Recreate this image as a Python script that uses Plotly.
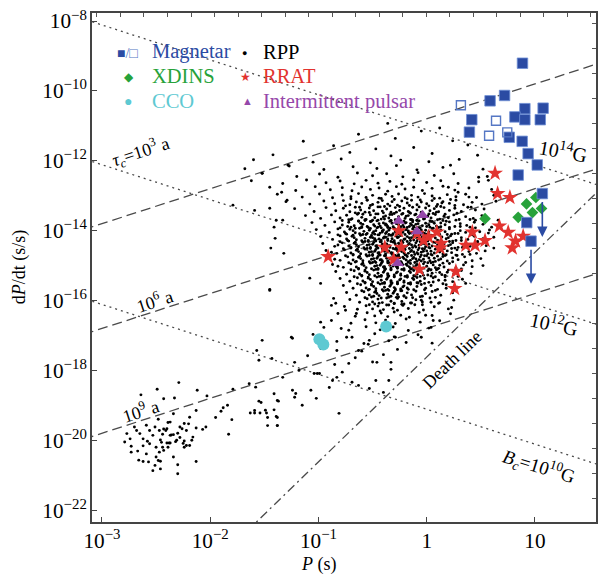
import numpy as np
import plotly.graph_objects as go

# ---------------- data ----------------
# Magnetars, filled squares: period P (s), dP/dt (s/s)
mag_P = [7.67, 5.24, 3.85, 2.61, 2.48, 8.07, 6.53, 8.07, 11.9, 11.2, 5.79, 7.62, 8.65, 10.5, 7.0, 11.7, 8.4, 9.2]
mag_Pdot = [6.2e-10, 7.4e-11, 5.2e-11, 1.5e-11, 6.6e-12, 3.1e-11, 1.8e-11, 1.5e-11, 3.2e-11, 1.5e-11,
            4.7e-12, 3.6e-12, 1.6e-12, 7.6e-13, 3.9e-13, 1.15e-13, 1.7e-14, 5.0e-15]
# Magnetars, open squares
mago_P = [2.07, 4.37, 3.77, 5.55]
mago_Pdot = [3.9e-11, 1.4e-11, 5.2e-12, 6.5e-12]
# Upper limits (arrows): start (P, Pdot) -> end Pdot
lim_P = [11.7, 9.2]
lim_Pdot_from = [1.15e-13, 5.0e-15]
lim_Pdot_to = [6.6e-15, 3.0e-16]
# XDINS
xdins_P = [10.2, 8.36, 11.5, 9.48, 7.0, 3.46]
xdins_Pdot = [8.9e-14, 5.8e-14, 4.3e-14, 3.3e-14, 2.4e-14, 2.2e-14]
# CCO
cco_P = [0.102, 0.111, 0.422]
cco_Pdot = [7.8e-18, 5.5e-18, 1.8e-17]
# RRAT
rrat_P = [0.123, 0.551, 0.410, 0.583, 0.495, 0.855, 0.813, 0.935, 1.04, 1.24, 1.36, 1.33, 1.86,
          1.81, 2.64, 2.30, 2.80, 3.46, 4.28, 4.52, 5.87, 4.69, 5.66, 6.62, 7.78, 6.17]
rrat_Pdot = [1.8e-15, 9.8e-15, 3.3e-15, 3.3e-15, 1.5e-15, 7.8e-16, 8.3e-15, 5.2e-15, 6.6e-15, 9.1e-15,
             4.3e-15, 3.2e-15, 6.8e-16, 2.2e-16, 9.1e-15, 3.8e-15, 3.8e-15, 5.2e-15, 4.4e-13, 1.15e-13,
             8.9e-14, 1.35e-14, 8.9e-15, 5.0e-15, 6.9e-15, 3.2e-15]
# Intermittent pulsars
int_P = [0.551, 0.916, 0.813, 0.540]
int_Pdot = [1.9e-14, 2.75e-14, 9.5e-15, 1.17e-15]

# RPP, millisecond group (log10 P, log10 Pdot)
msp_logP = [-2.49, -2.29, -2.64, -2.43, -2.33, -2.12, -2.03, -1.79, -1.64, -1.58, -1.41, -1.37, -1.55, -1.49,
            -1.59, -1.54, -1.48, -1.39, -1.63, -1.88, -1.90, -1.80, -1.83, -1.95, -2.04, -2.07, -2.13, -2.17,
            -2.22, -2.28, -2.30, -2.28, -2.32, -2.31, -2.37, -2.40, -2.45, -2.44, -2.39, -2.43, -2.47,
            -2.50, -2.53, -2.56, -2.58, -2.62, -2.65, -2.68, -2.70, -2.74, -2.77, -2.79, -2.73, -2.73,
            -2.67, -2.62, -2.59, -2.66, -2.62, -2.57, -2.50, -2.48, -2.46, -2.51, -2.53, -2.46, -2.34,
            -2.30, -2.30, -2.19, -2.13, -2.22, -2.25, -2.16, -2.24, -2.24, -2.26, -2.24, -2.20, -2.37,
            -2.40, -2.36, -2.34, -2.47, -2.56, -2.51, -2.59, -2.48, -2.37, -2.39, -2.43, -2.41, -2.44,
            -2.46, -2.38, -1.38, -1.41, -2.34, -2.19, -2.13, -1.84]
msp_logPdot = [-18.54, -18.35, -18.70, -18.81, -18.79, -18.57, -18.73, -18.54, -18.38, -18.48, -18.67,
               -18.88, -18.88, -19.14, -19.22, -19.22, -19.22, -19.32, -19.22, -19.07, -19.17, -19.41,
               -19.83, -19.35, -19.62, -19.69, -19.65, -20.00, -19.72, -19.62, -19.80, -19.92, -20.04,
               -20.00, -20.08, -20.08, -20.06, -20.20, -20.20, -20.29, -20.34, -20.20, -19.86, -20.10,
               -20.03, -19.96, -19.81, -19.72, -19.62, -19.96, -19.81, -20.05, -20.17, -20.34, -20.31,
               -20.16, -20.39, -20.57, -20.61, -20.62, -20.48, -20.58, -20.60, -20.72, -20.87, -20.82,
               -20.48, -20.70, -20.96, -20.15, -20.61, -20.15, -20.09, -19.91, -20.02, -20.20, -19.67,
               -19.52, -19.53, -19.86, -19.67, -19.85, -19.84, -19.72, -19.72, -19.62, -19.57, -19.40,
               -19.48, -19.49, -19.68, -19.72, -19.83, -19.99, -20.08, -19.58, -19.13, -19.24, -19.34,
               -19.15, -19.00]

# RPP, normal pulsars (log10 P, log10 Pdot)
rpp_points = [
    (-0.36, -10.93), (0.12, -11.06), (-0.63, -11.24), (-0.05, -11.15), (-1.14, -11.44), (-0.29, -11.36),
    (0.24, -11.43), (-0.86, -11.57), (-0.47, -11.66), (-0.12, -11.62), (0.38, -11.55), (-1.42, -11.83),
    (-0.71, -11.76), (-0.33, -11.86), (0.05, -11.79), (0.47, -11.84), (-1.6, -11.97), (-1.05, -12.04),
    (-0.79, -11.95), (-0.52, -12.06), (-0.24, -11.98), (0.02, -12.03), (0.3, -11.96),
    (-1.68, -12.23), (-1.27, -12.15), (-0.95, -12.25), (-0.68, -12.17), (-0.46, -12.22), (-0.28, -12.14),
    (-0.09, -12.26), (0.15, -12.19), (0.52, -12.24),
    (-1.52, -12.36), (-1.2, -12.45), (-0.99, -12.38), (-0.82, -12.47), (-0.64, -12.35), (-0.5, -12.43),
    (-0.37, -12.37), (-0.22, -12.46), (-0.08, -12.34), (0.07, -12.42), (0.25, -12.37), (0.56, -12.45),
    (-1.62, -12.57), (-1.33, -12.65), (-1.11, -12.55), (-0.93, -12.63), (-0.8, -12.58), (-0.67, -12.66),
    (-0.56, -12.56), (-0.45, -12.64), (-0.34, -12.59), (-0.23, -12.67), (-0.12, -12.55), (0.0, -12.62),
    (0.13, -12.57), (0.29, -12.65), (0.48, -12.6),
    (-1.45, -12.76), (-1.21, -12.85), (-1.03, -12.74), (-0.89, -12.83), (-0.78, -12.77), (-0.69, -12.86),
    (-0.6, -12.75), (-0.52, -12.82), (-0.44, -12.78), (-0.36, -12.87), (-0.28, -12.74), (-0.2, -12.81),
    (-0.12, -12.76), (-0.04, -12.85), (0.05, -12.79), (0.15, -12.73), (0.26, -12.84), (0.39, -12.78),
    (0.6, -12.82),
    (-1.38, -12.96), (-1.15, -13.04), (-0.99, -12.95), (-0.87, -13.06), (-0.78, -12.98), (-0.7, -13.03),
    (-0.63, -12.94), (-0.56, -13.05), (-0.5, -12.99), (-0.44, -13.07), (-0.38, -12.96), (-0.32, -13.02),
    (-0.26, -12.95), (-0.2, -13.06), (-0.14, -12.99), (-0.08, -13.04), (-0.02, -12.94), (0.05, -13.01),
    (0.12, -13.07), (0.19, -12.97), (0.27, -13.03), (0.36, -12.96), (0.46, -13.05), (0.62, -12.99),
    (-1.3, -13.17), (-1.08, -13.24), (-0.95, -13.15), (-0.85, -13.23), (-0.77, -13.14), (-0.71, -13.26),
    (-0.65, -13.18), (-0.6, -13.22), (-0.55, -13.13), (-0.5, -13.25), (-0.45, -13.19), (-0.41, -13.14),
    (-0.36, -13.24), (-0.32, -13.17), (-0.27, -13.27), (-0.23, -13.15), (-0.18, -13.21), (-0.14, -13.13),
    (-0.09, -13.26), (-0.05, -13.18), (0.0, -13.23), (0.05, -13.14), (0.1, -13.25), (0.15, -13.17),
    (0.21, -13.22), (0.27, -13.13), (0.34, -13.26), (0.42, -13.19), (0.51, -13.24), (0.64, -13.16),
    (-1.22, -13.37), (-1.04, -13.45), (-0.93, -13.34), (-0.84, -13.43), (-0.77, -13.36), (-0.71, -13.46),
    (-0.66, -13.33), (-0.61, -13.41), (-0.57, -13.47), (-0.53, -13.35), (-0.49, -13.43), (-0.45, -13.32),
    (-0.41, -13.44), (-0.37, -13.38), (-0.33, -13.47), (-0.29, -13.34), (-0.25, -13.42), (-0.21, -13.36),
    (-0.17, -13.45), (-0.13, -13.33), (-0.09, -13.41), (-0.05, -13.47), (-0.01, -13.35), (0.03, -13.43),
    (0.07, -13.37), (0.11, -13.46), (0.16, -13.34), (0.21, -13.42), (0.26, -13.36), (0.32, -13.45),
    (0.38, -13.33), (0.45, -13.41), (0.53, -13.38), (-0.63, -13.5), (-0.39, -13.31), (-0.15, -13.5),
    (0.09, -13.31),
    (-1.12, -13.57), (-0.98, -13.65), (-0.88, -13.55), (-0.8, -13.64), (-0.74, -13.56), (-0.69, -13.66),
    (-0.64, -13.53), (-0.6, -13.62), (-0.56, -13.68), (-0.52, -13.55), (-0.48, -13.63), (-0.45, -13.52),
    (-0.42, -13.67), (-0.38, -13.58), (-0.35, -13.64), (-0.32, -13.54), (-0.29, -13.69), (-0.26, -13.6),
    (-0.23, -13.53), (-0.2, -13.65), (-0.17, -13.57), (-0.14, -13.68), (-0.11, -13.55), (-0.08, -13.62),
    (-0.05, -13.52), (-0.02, -13.66), (0.01, -13.58), (0.04, -13.64), (0.08, -13.54), (0.12, -13.67),
    (0.16, -13.59), (0.2, -13.63), (0.25, -13.55), (0.3, -13.68), (0.36, -13.6), (0.43, -13.65),
    (0.51, -13.57), (-0.72, -13.69), (-0.5, -13.7), (-0.3, -13.51), (-0.13, -13.7), (0.06, -13.51),
    (-0.4, -13.61), (-0.19, -13.59),
    (-1.06, -13.77), (-0.94, -13.85), (-0.85, -13.75), (-0.78, -13.84), (-0.72, -13.76), (-0.67, -13.86),
    (-0.63, -13.73), (-0.59, -13.82), (-0.55, -13.88), (-0.52, -13.74), (-0.49, -13.83), (-0.46, -13.72),
    (-0.43, -13.87), (-0.4, -13.78), (-0.37, -13.84), (-0.34, -13.73), (-0.31, -13.89), (-0.28, -13.8),
    (-0.25, -13.74), (-0.22, -13.85), (-0.19, -13.77), (-0.16, -13.88), (-0.13, -13.75), (-0.1, -13.82),
    (-0.07, -13.72), (-0.04, -13.86), (-0.01, -13.79), (0.02, -13.84), (0.05, -13.74), (0.09, -13.87),
    (0.13, -13.78), (0.17, -13.83), (0.21, -13.75), (0.26, -13.88), (0.31, -13.8), (0.37, -13.85),
    (0.44, -13.76), (0.52, -13.82), (-0.7, -13.9), (-0.57, -13.71), (-0.45, -13.9), (-0.33, -13.71),
    (-0.21, -13.9), (-0.09, -13.7), (0.03, -13.9), (0.15, -13.71), (-0.61, -13.79), (-0.38, -13.81),
    (-0.15, -13.8), (0.07, -13.79),
    (-1.02, -13.97), (-0.9, -14.05), (-0.82, -13.95), (-0.76, -14.04), (-0.71, -13.96), (-0.66, -14.06),
    (-0.62, -13.93), (-0.58, -14.02), (-0.55, -14.08), (-0.52, -13.94), (-0.49, -14.03), (-0.46, -13.92),
    (-0.43, -14.07), (-0.4, -13.98), (-0.37, -14.04), (-0.34, -13.93), (-0.31, -14.09), (-0.28, -14.0),
    (-0.25, -13.94), (-0.22, -14.05), (-0.19, -13.97), (-0.16, -14.08), (-0.13, -13.95), (-0.1, -14.02),
    (-0.07, -13.92), (-0.04, -14.06), (-0.01, -13.99), (0.02, -14.04), (0.05, -13.94), (0.09, -14.07),
    (0.13, -13.98), (0.17, -14.03), (0.21, -13.95), (0.26, -14.08), (0.31, -14.0), (0.36, -14.05),
    (0.42, -13.96), (0.49, -14.03), (0.58, -13.98), (-0.74, -14.1), (-0.6, -13.91), (-0.48, -14.1),
    (-0.36, -13.91), (-0.24, -14.1), (-0.12, -13.9), (0.0, -14.1), (0.11, -13.91), (0.23, -14.1),
    (-0.68, -14.0), (-0.53, -13.99), (-0.41, -14.01), (-0.29, -13.96), (-0.17, -14.01), (-0.05, -13.98),
    (-0.98, -14.17), (-0.87, -14.25), (-0.8, -14.15), (-0.74, -14.24), (-0.69, -14.16), (-0.65, -14.26),
    (-0.61, -14.13), (-0.57, -14.22), (-0.54, -14.28), (-0.51, -14.14), (-0.48, -14.23), (-0.45, -14.12),
    (-0.42, -14.27), (-0.39, -14.18), (-0.36, -14.24), (-0.33, -14.13), (-0.3, -14.29), (-0.27, -14.2),
    (-0.24, -14.14), (-0.21, -14.25), (-0.18, -14.17), (-0.15, -14.28), (-0.12, -14.15), (-0.09, -14.22),
    (-0.06, -14.12), (-0.03, -14.26), (0.0, -14.19), (0.03, -14.24), (0.06, -14.14), (0.1, -14.27),
    (0.14, -14.18), (0.18, -14.23), (0.22, -14.15), (0.27, -14.28), (0.32, -14.2), (0.38, -14.25),
    (0.44, -14.16), (0.52, -14.23), (0.62, -14.19), (-0.72, -14.3), (-0.59, -14.11), (-0.47, -14.3),
    (-0.35, -14.11), (-0.23, -14.3), (-0.11, -14.1), (0.01, -14.3), (0.12, -14.11), (0.24, -14.3),
    (-0.67, -14.2), (-0.52, -14.19), (-0.4, -14.21), (-0.28, -14.16), (-0.16, -14.21), (-0.04, -14.18),
    (0.08, -14.21), (0.2, -14.2),
    (-0.96, -14.37), (-0.85, -14.45), (-0.78, -14.35), (-0.72, -14.44), (-0.67, -14.36), (-0.63, -14.46),
    (-0.59, -14.33), (-0.55, -14.42), (-0.52, -14.48), (-0.49, -14.34), (-0.46, -14.43), (-0.43, -14.32),
    (-0.4, -14.47), (-0.37, -14.38), (-0.34, -14.44), (-0.31, -14.33), (-0.28, -14.49), (-0.25, -14.4),
    (-0.22, -14.34), (-0.19, -14.45), (-0.16, -14.37), (-0.13, -14.48), (-0.1, -14.35), (-0.07, -14.42),
    (-0.04, -14.32), (-0.01, -14.46), (0.02, -14.39), (0.05, -14.44), (0.08, -14.34), (0.12, -14.47),
    (0.16, -14.38), (0.2, -14.43), (0.24, -14.35), (0.29, -14.48), (0.34, -14.4), (0.4, -14.45),
    (0.47, -14.36), (0.55, -14.43), (-0.7, -14.5), (-0.57, -14.31), (-0.45, -14.5), (-0.33, -14.31),
    (-0.21, -14.5), (-0.09, -14.3), (0.03, -14.5), (0.14, -14.31), (0.26, -14.5), (-0.65, -14.4),
    (-0.5, -14.39), (-0.38, -14.41), (-0.26, -14.36), (-0.14, -14.41), (-0.02, -14.38), (0.1, -14.41),
    (0.22, -14.4), (-0.82, -14.41),
    (-0.93, -14.57), (-0.83, -14.65), (-0.76, -14.55), (-0.7, -14.64), (-0.65, -14.56), (-0.61, -14.66),
    (-0.57, -14.53), (-0.53, -14.62), (-0.5, -14.68), (-0.47, -14.54), (-0.44, -14.63), (-0.41, -14.52),
    (-0.38, -14.67), (-0.35, -14.58), (-0.32, -14.64), (-0.29, -14.53), (-0.26, -14.69), (-0.23, -14.6),
    (-0.2, -14.54), (-0.17, -14.65), (-0.14, -14.57), (-0.11, -14.68), (-0.08, -14.55), (-0.05, -14.62),
    (-0.02, -14.52), (0.01, -14.66), (0.04, -14.59), (0.07, -14.64), (0.11, -14.54), (0.15, -14.67),
    (0.19, -14.58), (0.23, -14.63), (0.28, -14.55), (0.33, -14.68), (0.39, -14.6), (0.46, -14.65),
    (-0.68, -14.7), (-0.55, -14.51), (-0.43, -14.7), (-0.31, -14.51), (-0.19, -14.7), (-0.07, -14.5),
    (0.05, -14.7), (0.16, -14.51), (0.27, -14.7), (-0.63, -14.6), (-0.48, -14.59), (-0.36, -14.61),
    (-0.24, -14.56), (-0.12, -14.61), (0.0, -14.58), (0.12, -14.61), (0.54, -14.58), (-0.88, -14.62),
    (-0.9, -14.77), (-0.8, -14.85), (-0.73, -14.75), (-0.68, -14.84), (-0.63, -14.76), (-0.59, -14.86),
    (-0.55, -14.73), (-0.51, -14.82), (-0.48, -14.88), (-0.45, -14.74), (-0.42, -14.83), (-0.39, -14.72),
    (-0.36, -14.87), (-0.33, -14.78), (-0.3, -14.84), (-0.27, -14.73), (-0.24, -14.89), (-0.21, -14.8),
    (-0.18, -14.74), (-0.15, -14.85), (-0.12, -14.77), (-0.09, -14.88), (-0.06, -14.75), (-0.03, -14.82),
    (0.0, -14.72), (0.03, -14.86), (0.07, -14.79), (0.11, -14.84), (0.15, -14.74), (0.19, -14.87),
    (0.24, -14.78), (0.29, -14.83), (0.35, -14.75), (0.42, -14.86), (0.5, -14.8), (-0.66, -14.9),
    (-0.53, -14.71), (-0.41, -14.9), (-0.29, -14.71), (-0.17, -14.9), (-0.05, -14.7), (0.06, -14.9),
    (0.17, -14.71), (-0.61, -14.8), (-0.46, -14.79), (-0.34, -14.81), (-0.22, -14.76), (-0.1, -14.81),
    (0.02, -14.78), (0.13, -14.81), (-0.85, -14.82),
    (-0.87, -14.97), (-0.77, -15.05), (-0.7, -14.95), (-0.65, -15.04), (-0.6, -14.96), (-0.56, -15.06),
    (-0.52, -14.93), (-0.48, -15.02), (-0.45, -15.08), (-0.42, -14.94), (-0.39, -15.03), (-0.36, -14.92),
    (-0.33, -15.07), (-0.3, -14.98), (-0.27, -15.04), (-0.24, -14.93), (-0.21, -15.09), (-0.18, -15.0),
    (-0.15, -14.94), (-0.12, -15.05), (-0.09, -14.97), (-0.06, -15.08), (-0.03, -14.95), (0.0, -15.02),
    (0.04, -14.92), (0.08, -15.06), (0.12, -14.99), (0.16, -15.04), (0.21, -14.94), (0.27, -15.07),
    (0.34, -14.98), (0.42, -15.03), (-0.63, -15.1), (-0.5, -14.91), (-0.38, -15.1), (-0.26, -14.91),
    (-0.14, -15.1), (-0.02, -14.9), (0.1, -15.1), (-0.58, -15.0), (-0.43, -14.99), (-0.31, -15.01),
    (-0.19, -14.96), (-0.07, -15.01), (0.06, -14.98), (0.52, -15.0), (-0.82, -15.02),
    (-0.84, -15.17), (-0.74, -15.25), (-0.67, -15.15), (-0.62, -15.24), (-0.57, -15.16), (-0.53, -15.26),
    (-0.49, -15.13), (-0.45, -15.22), (-0.42, -15.28), (-0.39, -15.14), (-0.36, -15.23), (-0.33, -15.12),
    (-0.3, -15.27), (-0.27, -15.18), (-0.24, -15.24), (-0.21, -15.13), (-0.18, -15.29), (-0.15, -15.2),
    (-0.12, -15.14), (-0.09, -15.25), (-0.06, -15.17), (-0.03, -15.28), (0.01, -15.15), (0.05, -15.22),
    (0.09, -15.12), (0.14, -15.26), (0.19, -15.19), (0.25, -15.24), (0.32, -15.14), (0.41, -15.23),
    (-0.6, -15.3), (-0.47, -15.11), (-0.35, -15.3), (-0.23, -15.11), (-0.11, -15.3), (0.02, -15.1),
    (-0.55, -15.2), (-0.4, -15.19), (-0.28, -15.21), (-0.16, -15.16), (-0.04, -15.21), (0.12, -15.2),
    (-0.8, -15.37), (-0.71, -15.45), (-0.64, -15.35), (-0.59, -15.44), (-0.54, -15.36), (-0.5, -15.46),
    (-0.46, -15.33), (-0.42, -15.42), (-0.39, -15.48), (-0.36, -15.34), (-0.33, -15.43), (-0.3, -15.32),
    (-0.27, -15.47), (-0.24, -15.38), (-0.21, -15.44), (-0.18, -15.33), (-0.15, -15.49), (-0.12, -15.4),
    (-0.09, -15.34), (-0.06, -15.45), (-0.02, -15.37), (0.02, -15.48), (0.06, -15.35), (0.11, -15.42),
    (0.17, -15.32), (0.24, -15.46), (0.33, -15.39), (-0.57, -15.5), (-0.44, -15.31), (-0.32, -15.5),
    (-0.2, -15.31), (-0.08, -15.5), (0.04, -15.3), (-0.52, -15.4), (-0.37, -15.39), (-0.25, -15.41),
    (-0.13, -15.36),
    (-0.77, -15.57), (-0.68, -15.65), (-0.61, -15.55), (-0.56, -15.64), (-0.51, -15.56), (-0.47, -15.66),
    (-0.43, -15.53), (-0.39, -15.62), (-0.36, -15.68), (-0.33, -15.54), (-0.3, -15.63), (-0.27, -15.52),
    (-0.24, -15.67), (-0.21, -15.58), (-0.18, -15.64), (-0.15, -15.53), (-0.12, -15.69), (-0.09, -15.6),
    (-0.05, -15.54), (-0.01, -15.65), (0.04, -15.57), (0.1, -15.68), (0.18, -15.55), (0.28, -15.62),
    (-0.54, -15.7), (-0.41, -15.51), (-0.29, -15.7), (-0.17, -15.51), (-0.49, -15.6), (-0.34, -15.59),
    (-0.22, -15.61),
    (-0.74, -15.77), (-0.65, -15.85), (-0.58, -15.75), (-0.53, -15.84), (-0.48, -15.76), (-0.44, -15.86),
    (-0.4, -15.73), (-0.36, -15.82), (-0.33, -15.88), (-0.3, -15.74), (-0.27, -15.83), (-0.24, -15.72),
    (-0.21, -15.87), (-0.18, -15.78), (-0.14, -15.84), (-0.1, -15.73), (-0.06, -15.89), (-0.01, -15.8),
    (0.05, -15.74), (0.13, -15.85), (0.24, -15.78), (-0.51, -15.9), (-0.38, -15.71), (-0.26, -15.9),
    (-0.46, -15.8), (-0.31, -15.79),
    (-0.71, -15.97), (-0.62, -16.05), (-0.55, -15.95), (-0.5, -16.04), (-0.45, -15.96), (-0.41, -16.06),
    (-0.37, -15.93), (-0.33, -16.02), (-0.3, -16.08), (-0.27, -15.94), (-0.23, -16.03), (-0.19, -15.92),
    (-0.15, -16.07), (-0.1, -15.98), (-0.04, -16.04), (0.03, -15.93), (0.12, -16.06), (0.25, -15.99),
    (-0.48, -16.1), (-0.35, -15.91), (-0.21, -16.1),
    (-0.76, -16.17), (-0.64, -16.25), (-0.56, -16.15), (-0.5, -16.24), (-0.45, -16.16), (-0.4, -16.26),
    (-0.35, -16.13), (-0.31, -16.22), (-0.27, -16.28), (-0.22, -16.14), (-0.17, -16.23), (-0.11, -16.12),
    (-0.03, -16.27), (0.07, -16.18), (0.2, -16.24), (-0.43, -16.3),
    (-0.82, -16.37), (-0.66, -16.45), (-0.55, -16.35), (-0.48, -16.44), (-0.42, -16.36), (-0.36, -16.46),
    (-0.3, -16.33), (-0.24, -16.42), (-0.16, -16.48), (-0.07, -16.34), (0.05, -16.43), (0.22, -16.38),
    (-0.88, -16.57), (-0.7, -16.65), (-0.57, -16.55), (-0.47, -16.64), (-0.38, -16.56), (-0.29, -16.66),
    (-0.19, -16.53), (-0.06, -16.62), (0.12, -16.58),
    (-0.95, -16.77), (-0.72, -16.85), (-0.56, -16.75), (-0.43, -16.84), (-0.31, -16.76), (-0.17, -16.86),
    (0.02, -16.79), (-1.05, -16.97), (-0.69, -17.05), (-0.48, -16.95), (-0.3, -17.04), (-0.08, -16.98),
    (-0.83, -17.17), (-0.54, -17.25), (-0.35, -17.15), (0.05, -17.22), (-0.98, -17.37), (-0.6, -17.45),
    (-0.27, -17.4), (-1.1, -17.58), (-0.66, -17.64), (-0.4, -17.55), (-0.85, -17.83), (-0.5, -17.76),
    (-0.78, -18.05), (-0.33, -17.97),
    # denser interleaved points of the core
    (-0.66, -13.49), (-0.59, -13.53), (-0.53, -13.48), (-0.47, -13.52), (-0.4, -13.49), (-0.34, -13.54),
    (-0.28, -13.47), (-0.22, -13.51), (-0.16, -13.48), (-0.1, -13.53), (-0.04, -13.49), (0.02, -13.52),
    (0.09, -13.47), (0.17, -13.53), (0.28, -13.5),
    (-0.78, -13.71), (-0.7, -13.68), (-0.63, -13.72), (-0.57, -13.69), (-0.51, -13.73), (-0.45, -13.7),
    (-0.39, -13.67), (-0.33, -13.72), (-0.27, -13.69), (-0.21, -13.73), (-0.15, -13.68), (-0.09, -13.71),
    (-0.03, -13.67), (0.03, -13.72), (0.1, -13.69), (0.18, -13.73), (0.27, -13.7), (0.4, -13.68),
    (-0.8, -13.92), (-0.73, -13.88), (-0.66, -13.93), (-0.6, -13.89), (-0.54, -13.91), (-0.48, -13.87),
    (-0.42, -13.92), (-0.36, -13.88), (-0.3, -13.93), (-0.24, -13.89), (-0.18, -13.91), (-0.12, -13.87),
    (-0.06, -13.92), (0.0, -13.88), (0.06, -13.93), (0.13, -13.89), (0.21, -13.91), (0.31, -13.88),
    (0.45, -13.92),
    (-0.82, -14.12), (-0.75, -14.08), (-0.68, -14.13), (-0.62, -14.09), (-0.56, -14.11), (-0.5, -14.07),
    (-0.44, -14.12), (-0.38, -14.08), (-0.32, -14.13), (-0.26, -14.09), (-0.2, -14.11), (-0.14, -14.07),
    (-0.08, -14.12), (-0.02, -14.08), (0.04, -14.13), (0.11, -14.09), (0.19, -14.11), (0.29, -14.08),
    (0.42, -14.12),
    (-0.8, -14.32), (-0.73, -14.28), (-0.66, -14.33), (-0.6, -14.29), (-0.54, -14.31), (-0.48, -14.27),
    (-0.42, -14.32), (-0.36, -14.28), (-0.3, -14.33), (-0.24, -14.29), (-0.18, -14.31), (-0.12, -14.27),
    (-0.06, -14.32), (0.0, -14.28), (0.06, -14.33), (0.13, -14.29), (0.21, -14.31), (0.32, -14.28),
    (0.47, -14.31),
    (-0.77, -14.52), (-0.7, -14.48), (-0.64, -14.53), (-0.58, -14.49), (-0.52, -14.51), (-0.46, -14.47),
    (-0.4, -14.52), (-0.34, -14.48), (-0.28, -14.53), (-0.22, -14.49), (-0.16, -14.51), (-0.1, -14.47),
    (-0.04, -14.52), (0.02, -14.48), (0.08, -14.53), (0.15, -14.49), (0.23, -14.51), (0.33, -14.48),
    (-0.75, -14.72), (-0.68, -14.68), (-0.62, -14.73), (-0.56, -14.69), (-0.5, -14.71), (-0.44, -14.67),
    (-0.38, -14.72), (-0.32, -14.68), (-0.26, -14.73), (-0.2, -14.69), (-0.14, -14.71), (-0.08, -14.67),
    (-0.02, -14.72), (0.04, -14.68), (0.1, -14.73), (0.18, -14.69), (0.28, -14.71), (0.4, -14.68),
    (-0.72, -14.92), (-0.65, -14.88), (-0.59, -14.93), (-0.53, -14.89), (-0.47, -14.91), (-0.41, -14.87),
    (-0.35, -14.92), (-0.29, -14.88), (-0.23, -14.93), (-0.17, -14.89), (-0.11, -14.91), (-0.05, -14.87),
    (0.01, -14.92), (0.08, -14.88), (0.15, -14.93), (0.24, -14.89), (0.36, -14.91),
    (-0.7, -15.12), (-0.63, -15.08), (-0.57, -15.13), (-0.51, -15.09), (-0.45, -15.11), (-0.39, -15.07),
    (-0.33, -15.12), (-0.27, -15.08), (-0.21, -15.13), (-0.15, -15.09), (-0.09, -15.11), (-0.03, -15.07),
    (0.04, -15.12), (0.11, -15.08), (0.2, -15.13), (0.32, -15.1),
    (-0.67, -15.32), (-0.6, -15.28), (-0.54, -15.33), (-0.48, -15.29), (-0.42, -15.31), (-0.36, -15.27),
    (-0.3, -15.32), (-0.24, -15.28), (-0.18, -15.33), (-0.12, -15.29), (-0.06, -15.31), (0.01, -15.27),
    (0.08, -15.32), (0.17, -15.28), (0.29, -15.31),
    (-0.64, -15.52), (-0.57, -15.48), (-0.51, -15.53), (-0.45, -15.49), (-0.39, -15.51), (-0.33, -15.47),
    (-0.27, -15.52), (-0.21, -15.48), (-0.15, -15.53), (-0.09, -15.49), (-0.02, -15.51), (0.06, -15.47),
    (0.15, -15.52),
    (-0.6, -15.72), (-0.53, -15.68), (-0.47, -15.73), (-0.41, -15.69), (-0.35, -15.71), (-0.29, -15.67),
    (-0.23, -15.72), (-0.17, -15.68), (-0.1, -15.73), (-0.02, -15.69), (0.08, -15.71),
    (-0.57, -15.92), (-0.49, -15.88), (-0.42, -15.93), (-0.35, -15.89), (-0.28, -15.91), (-0.21, -15.87),
    (-0.13, -15.92), (-0.04, -15.88), (0.08, -15.91), (-0.53, -16.12), (-0.44, -16.08), (-0.37, -16.13),
    (-0.3, -16.09), (-0.23, -16.11), (-0.14, -16.07), (-0.04, -16.12),
    (-0.75, -13.29), (-0.62, -13.33), (-0.52, -13.28), (-0.43, -13.32), (-0.34, -13.29), (-0.25, -13.31),
    (-0.16, -13.28), (-0.07, -13.32), (0.02, -13.29), (0.13, -13.31), (0.26, -13.28),
    (-0.7, -13.09), (-0.55, -13.12), (-0.42, -13.08), (-0.3, -13.11), (-0.18, -13.09), (-0.06, -13.12),
    (0.07, -13.08), (0.22, -13.11),
    # darkest centre of the core
    (-0.47, -14.0), (-0.41, -14.04), (-0.35, -13.99), (-0.29, -14.03), (-0.23, -13.98), (-0.17, -14.04),
    (-0.11, -14.0), (-0.05, -14.03), (-0.5, -14.2), (-0.44, -14.24), (-0.38, -14.19), (-0.32, -14.23),
    (-0.26, -14.18), (-0.2, -14.24), (-0.14, -14.2), (-0.08, -14.23), (-0.02, -14.19), (-0.53, -14.4),
    (-0.47, -14.44), (-0.41, -14.39), (-0.35, -14.43), (-0.29, -14.38), (-0.23, -14.44), (-0.17, -14.4),
    (-0.11, -14.43), (-0.05, -14.39), (-0.51, -14.6), (-0.45, -14.64), (-0.39, -14.59), (-0.33, -14.63),
    (-0.27, -14.58), (-0.21, -14.64), (-0.15, -14.6), (-0.09, -14.63), (-0.03, -14.59), (-0.49, -14.8),
    (-0.43, -14.84), (-0.37, -14.79), (-0.31, -14.83), (-0.25, -14.78), (-0.19, -14.84), (-0.13, -14.8),
    (-0.07, -14.83), (-0.46, -15.0), (-0.4, -15.04), (-0.34, -14.99), (-0.28, -15.03), (-0.22, -14.98),
    (-0.16, -15.04), (-0.1, -15.0), (-0.44, -13.8), (-0.38, -13.84), (-0.32, -13.79), (-0.26, -13.83),
    (-0.2, -13.78), (-0.14, -13.84), (-0.08, -13.8),
    # sparse points between the two groups and round the edges
    (-1.45, -15.68), (-1.08, -15.36), (-0.98, -15.51), (-0.86, -15.94), (-0.84, -16.08), (-0.75, -16.28),
    (-0.65, -16.37), (-0.88, -16.14), (-0.98, -16.62), (-1.24, -17.08), (-1.52, -17.14), (-1.57, -17.43),
    (-1.43, -17.66), (-1.55, -17.71), (-1.18, -18.0), (-1.33, -18.2), (-1.21, -18.66), (-1.38, -18.86),
    (-1.53, -18.92), (-1.59, -19.15), (-1.47, -19.35), (-1.38, -19.35), (-1.47, -19.58), (-1.38, -19.58),
    (-1.15, -19.0), (-1.04, -18.09), (-0.99, -18.09), (-0.83, -18.2), (-0.72, -17.8), (-0.63, -17.43),
    (-0.58, -17.23), (-0.53, -17.14), (-0.46, -17.77), (-0.33, -17.77), (-0.35, -18.29), (-0.83, -17.43),
    (-0.9, -18.49), (-1.07, -18.57), (-1.24, -18.57), (-1.22, -18.77), (-1.02, -18.8), (-0.81, -19.23),
    (0.06, -16.57), (0.04, -16.77), (-0.05, -17.05), (-0.19, -17.2), (-0.29, -17.05), (-0.01, -16.42),
    (-0.05, -15.99), (0.04, -16.05), (0.11, -16.08), (0.23, -16.2), (0.36, -15.51), (0.18, -15.65),
    (0.17, -15.42), (-1.25, -17.05), (-0.79, -16.8), (-0.74, -17.05), (-1.22, -17.77), (-1.01, -18.09),
    (-0.87, -18.29), (-0.69, -18.34), (-0.63, -18.43), (-0.53, -18.52), (-0.47, -18.29), (-0.4, -18.63),
    (-1.52, -12.36), (-1.34, -12.9), (-1.29, -13.13), (-1.45, -13.36), (-1.59, -13.42), (-1.79, -13.27),
    (-1.39, -13.7), (-1.33, -13.7), (-1.41, -13.9), (-1.4, -14.22), (-1.44, -14.5), (-1.32, -14.65),
    (-1.45, -15.71), (-1.28, -12.13),
    (0.22, -12.13), (0.48, -12.47), (0.57, -12.56), (0.2, -12.76), (0.29, -12.9), (0.39, -13.04),
    (0.14, -13.21), (0.41, -13.33), (0.66, -13.7), (0.6, -13.9), (0.57, -14.07), (0.62, -14.5),
    (0.45, -13.7), (0.4, -13.9),
]
rpp_logP = [p[0] for p in rpp_points] + msp_logP
rpp_logPdot = [p[1] for p in rpp_points] + msp_logPdot

# reference lines
ages_yr = [1e3, 1e6, 1e9]
fields_G = [1e10, 1e12, 1e14]
logP_line = np.array([-3.3, 1.8])

BLUE = "#2b4ba3"
BLUE_OPEN = "#5577c4"
GREEN = "#27a23a"
CYAN = "#5ec9d2"
RED = "#e2332f"
PURPLE = "#9648aa"
LINE = "#4a4a4a"
FONT = "Liberation Serif"

fig = go.Figure()

for tau in ages_yr:
    pd_line = 10 ** logP_line / (2 * tau * 3.156e7)
    fig.add_trace(go.Scatter(x=10 ** logP_line, y=pd_line, mode="lines",
                             line=dict(color=LINE, width=1.3, dash="10px,5px"),
                             hoverinfo="skip", showlegend=False))
for B in fields_G:
    pd_line = (B / 3.6e19) ** 2 / 10 ** logP_line
    fig.add_trace(go.Scatter(x=10 ** logP_line, y=pd_line, mode="lines",
                             line=dict(color=LINE, width=1.3, dash="2px,4px"),
                             hoverinfo="skip", showlegend=False))
fig.add_trace(go.Scatter(x=10 ** logP_line, y=10 ** (3 * logP_line - 17.62), mode="lines",
                         line=dict(color=LINE, width=1.3, dash="9px,4px,2px,4px"),
                         hoverinfo="skip", showlegend=False))

fig.add_trace(go.Scatter(x=10 ** np.array(rpp_logP), y=10 ** np.array(rpp_logPdot), mode="markers",
                         marker=dict(color="black", size=2.9), showlegend=False))
fig.add_trace(go.Scatter(x=cco_P, y=cco_Pdot, mode="markers",
                         marker=dict(color=CYAN, size=12, symbol="circle"), showlegend=False))
fig.add_trace(go.Scatter(x=rrat_P, y=rrat_Pdot, mode="markers",
                         marker=dict(color=RED, size=12, symbol="star", line=dict(width=0)), showlegend=False))
fig.add_trace(go.Scatter(x=int_P, y=int_Pdot, mode="markers",
                         marker=dict(color=PURPLE, size=11, symbol="triangle-up"), showlegend=False))
fig.add_trace(go.Scatter(x=xdins_P, y=xdins_Pdot, mode="markers",
                         marker=dict(color=GREEN, size=9, symbol="diamond"), showlegend=False))
fig.add_trace(go.Scatter(x=mag_P, y=mag_Pdot, mode="markers",
                         marker=dict(color=BLUE, size=10.5, symbol="square", line=dict(color="#6f8fd6", width=0.8)),
                         showlegend=False))
fig.add_trace(go.Scatter(x=mago_P, y=mago_Pdot, mode="markers",
                         marker=dict(color=BLUE_OPEN, size=9, symbol="square-open", line=dict(width=1.4)),
                         showlegend=False))
# empty trace that carries the decorative top/right tick axes
fig.add_trace(go.Scatter(x=[], y=[], xaxis="x2", yaxis="y2", showlegend=False, hoverinfo="skip"))

annotations = []
for p, a, b in zip(lim_P, lim_Pdot_from, lim_Pdot_to):
    annotations.append(dict(x=np.log10(p), y=np.log10(b), ax=np.log10(p), ay=np.log10(a) - 0.2,
                            xref="x", yref="y", axref="x", ayref="y", text="", showarrow=True,
                            arrowhead=2, arrowsize=1.3, arrowwidth=1.6, arrowcolor=BLUE))

def lab(text, px, py, size=18, color="black", angle=0, anchor="center"):
    annotations.append(dict(text=text, x=(px - 92) / 506, y=(522 - py) / 509, xref="paper", yref="paper",
                            showarrow=False, textangle=angle, xanchor=anchor, yanchor="middle",
                            font=dict(family=FONT, size=size, color=color)))

lab("<i>τ<sub>c</sub></i>=10<sup>3</sup> a", 141, 151, 18, angle=-18)
lab("10<sup>6</sup> a", 155, 300, 18, angle=-18)
lab("10<sup>9</sup> a", 141, 410, 18, angle=-18)
lab("10<sup>14</sup>G", 565, 150, 20, angle=10)
lab("10<sup>12</sup>G", 556, 323, 20, angle=12)
lab("<i>B<sub>c</sub></i>=10<sup>10</sup>G", 541, 466, 19, angle=17)
lab("Death line", 453, 360, 18, angle=-44)

# axis titles
lab("<i>P</i> (s)", 320, 564, 18)
lab("d<i>P</i>/dt (s/s)", 19, 267, 18, angle=-90)

# legend
lab("<span style='color:%s'>■</span><span style='color:%s'>/</span><span style='color:%s'>□</span>" % (BLUE, BLUE_OPEN, BLUE_OPEN),
    128, 53, 14)
lab("Magnetar", 150, 52, 20.5, BLUE, anchor="left")
lab("◆", 129, 77, 12, GREEN)
lab("XDINS", 150, 76, 20.5, GREEN, anchor="left")
lab("●", 128, 101, 14, CYAN)
lab("CCO", 150, 101, 20.5, CYAN, anchor="left")
lab("●", 245, 53, 9, "black")
lab("RPP", 262, 52, 20.5, "black", anchor="left")
lab("★", 246, 77, 12, RED)
lab("RRAT", 262, 76, 20.5, RED, anchor="left")
lab("▲", 248, 101, 11, PURPLE)
lab("Intermittent pulsar", 262, 101, 20.5, PURPLE, anchor="left")

axis_common = dict(type="log", showgrid=False, zeroline=False, showline=True, linecolor="#444",
                   linewidth=1.5, mirror=True, ticks="inside", ticklen=5, tickwidth=1.2, tickcolor="#444",
                   exponentformat="power", tickfont=dict(family=FONT, size=17, color="black"))
deco_common = dict(showgrid=False, zeroline=False, showline=False, showticklabels=False, ticks="inside",
                   ticklen=4, tickwidth=1.1, tickcolor="#555", tickmode="array", fixedrange=True)

fig.update_layout(
    width=600, height=575, margin=dict(l=92, r=2, t=13, b=53),
    paper_bgcolor="white", plot_bgcolor="white", showlegend=False,
    xaxis=dict(range=[-3.092, 1.564], dtick=1, tick0=0, **axis_common),
    yaxis=dict(range=[-22.34, -7.77], dtick=2, tick0=0, **axis_common),
    xaxis2=dict(overlaying="x", side="top", range=[0, 506], tickvals=list(np.arange(5, 506, 23.6)),
                **deco_common),
    yaxis2=dict(overlaying="y", side="right", range=[0, 509], tickvals=list(np.arange(24, 509, 25)),
                **deco_common),
    annotations=annotations,
)

fig.write_html("out.html", post_script="document.body.style.margin='0px';",
               config={"displayModeBar": False})
